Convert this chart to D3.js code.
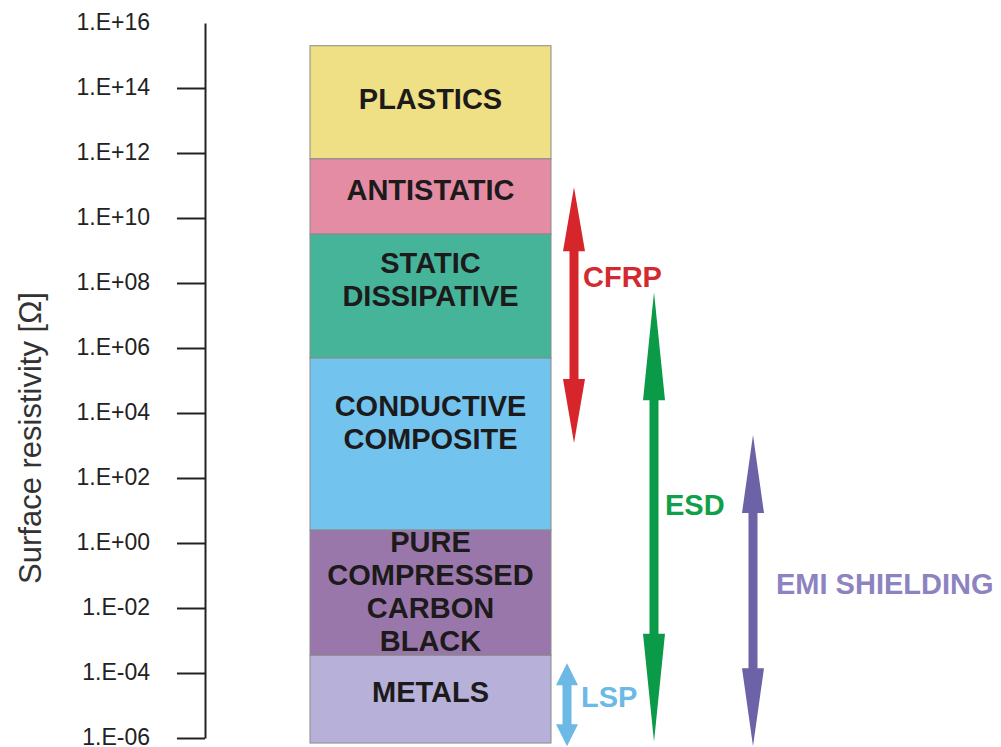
<!DOCTYPE html>
<html>
<head>
<meta charset="utf-8">
<script src="https://cdn.jsdelivr.net/npm/d3@7"></script>
<style>
  body { margin: 0; background: #fff; }
  text { font-family: "Liberation Sans", Arial, sans-serif; }
</style>
</head>
<body>
<div id="chart-area"></div>
<script>
// resistivity bands (ohm), top edge / bottom edge
var materials = ["PLASTICS", "ANTISTATIC", "STATIC DISSIPATIVE", "CONDUCTIVE COMPOSITE",
  "PURE COMPRESSED CARBON BLACK", "METALS"];
var materialLines = [["PLASTICS"], ["ANTISTATIC"], ["STATIC", "DISSIPATIVE"],
  ["CONDUCTIVE", "COMPOSITE"], ["PURE", "COMPRESSED", "CARBON", "BLACK"], ["METALS"]];
var bandTop = [2e15, 6.6e11, 3.2e9, 4.9e5, 2.5, 3.5e-4];
var bandBottom = [6.6e11, 3.2e9, 4.9e5, 2.5, 3.5e-4, 7e-7];

// application ranges
var uses = ["CFRP", "ESD", "EMI SHIELDING", "LSP"];
var useTop = [8.9e10, 5.2e7, 2.1e3, 2e-4];
var useBottom = [1.2e3, 7.6e-7, 5.6e-7, 5.6e-7];

var tickValues = [1e16, 1e14, 1e12, 1e10, 1e8, 1e6, 1e4, 1e2, 1, 1e-2, 1e-4, 1e-6];
var tickLabels = ["1.E+16", "1.E+14", "1.E+12", "1.E+10", "1.E+08", "1.E+06",
  "1.E+04", "1.E+02", "1.E+00", "1.E-02", "1.E-04", "1.E-06"];

var bandColors = ["#efe085", "#e48ca4", "#45b499", "#72c3ee", "#9a77aa", "#b7b1d9"];
// vertical nudge of each band label (px)
var bandNudge = [0, -3, -13, -18, 2, -4];
var arrowStyle = {
  "CFRP": { x: 574, head: 64, color: "#d7262b", text: "#d22a2e", lx: 583, ly: 287 },
  "ESD": { x: 654, head: 108, color: "#0b9a48", text: "#11a04a", lx: 665, ly: 515 },
  "EMI SHIELDING": { x: 753, head: 78, color: "#6c62a8", text: "#8d83c0", lx: 776, ly: 594 },
  "LSP": { x: 567, head: 22, color: "#6cb9e6", text: "#6cb9e6", lx: 581, ly: 707 }
};

var width = 1001, height = 747;

var svg = d3.select("#chart-area")
  .append("svg")
  .attr("width", width)
  .attr("height", height)
  .style("background-color", "white");

var y = d3.scaleLog()
  .domain([1e-6, 1e16])
  .range([738, 23]);

var x = d3.scaleLinear()
  .domain([0, 1])
  .range([310, 551]);

// axis
var yAxisCall = d3.axisLeft(y)
  .tickValues(tickValues)
  .tickSize(28)
  .tickSizeOuter(0)
  .tickPadding(27)
  .tickFormat((d, i) => tickLabels[i]);

var yAxisGroup = svg.append("g")
  .attr("class", "y axis")
  .attr("transform", "translate(205,0)")
  .call(yAxisCall);

yAxisGroup.select(".domain")
  .attr("stroke", "#222")
  .attr("stroke-width", 2);
yAxisGroup.selectAll(".tick line")
  .attr("stroke", "#222")
  .attr("stroke-width", 2)
  .attr("opacity", (d) => d === 1e16 ? 0 : 1);
yAxisGroup.selectAll(".tick text")
  .attr("font-size", "23px")
  .attr("font-family", "'Liberation Sans', Arial, sans-serif")
  .attr("fill", "#222")
  .attr("dy", "0.3em");

svg.append("text")
  .attr("class", "y axis-label")
  .attr("x", -438)
  .attr("y", 41)
  .attr("font-size", "31px")
  .attr("text-anchor", "middle")
  .attr("transform", "rotate(-90)")
  .attr("fill", "#333")
  .text("Surface resistivity [\u03A9]");

// material bands
var bands = materials.map((m, i) => ({
  name: m, lines: materialLines[i], top: bandTop[i], bottom: bandBottom[i],
  color: bandColors[i], nudge: bandNudge[i]
}));

svg.selectAll("rect.band")
  .data(bands)
  .enter().append("rect")
  .attr("class", "band")
  .attr("x", x(0))
  .attr("y", (d) => y(d.top))
  .attr("width", x(1) - x(0))
  .attr("height", (d) => y(d.bottom) - y(d.top))
  .attr("fill", (d) => d.color)
  .attr("stroke", "#8a8a8a")
  .attr("stroke-width", 1);

var lineH = 33;
svg.selectAll("text.band-label")
  .data(bands)
  .enter().append("text")
  .attr("class", "band-label")
  .attr("text-anchor", "middle")
  .attr("font-size", "29px")
  .attr("font-weight", "bold")
  .attr("fill", "#1c1a1a")
  .each(function(d) {
    var cy = (y(d.top) + y(d.bottom)) / 2 - 4 + d.nudge;
    var start = cy - (d.lines.length - 1) * lineH / 2;
    d3.select(this).selectAll("tspan")
      .data(d.lines)
      .enter().append("tspan")
      .attr("x", (x(0) + x(1)) / 2)
      .attr("y", (l, j) => start + j * lineH)
      .attr("dy", "0.36em")
      .text((l) => l);
  });

// double arrows
function arrowPath(d) {
  var s = arrowStyle[d.name];
  var t = y(d.top), b = y(d.bottom);
  var hw = 11, sw = 4.5, h = s.head, cx = s.x;
  return "M" + cx + "," + t +
    "L" + (cx + hw) + "," + (t + h) +
    "L" + (cx + sw) + "," + (t + h) +
    "L" + (cx + sw) + "," + (b - h) +
    "L" + (cx + hw) + "," + (b - h) +
    "L" + cx + "," + b +
    "L" + (cx - hw) + "," + (b - h) +
    "L" + (cx - sw) + "," + (b - h) +
    "L" + (cx - sw) + "," + (t + h) +
    "L" + (cx - hw) + "," + (t + h) + "Z";
}

var ranges = uses.map((u, i) => ({ name: u, top: useTop[i], bottom: useBottom[i] }));

svg.selectAll("path.range")
  .data(ranges)
  .enter().append("path")
  .attr("class", "range")
  .attr("d", arrowPath)
  .attr("fill", (d) => arrowStyle[d.name].color);

svg.selectAll("text.range-label")
  .data(ranges)
  .enter().append("text")
  .attr("class", "range-label")
  .attr("x", (d) => arrowStyle[d.name].lx)
  .attr("y", (d) => arrowStyle[d.name].ly)
  .attr("font-size", "29px")
  .attr("font-weight", "bold")
  .attr("fill", (d) => arrowStyle[d.name].text)
  .text((d) => d.name);
</script>
</body>
</html>
